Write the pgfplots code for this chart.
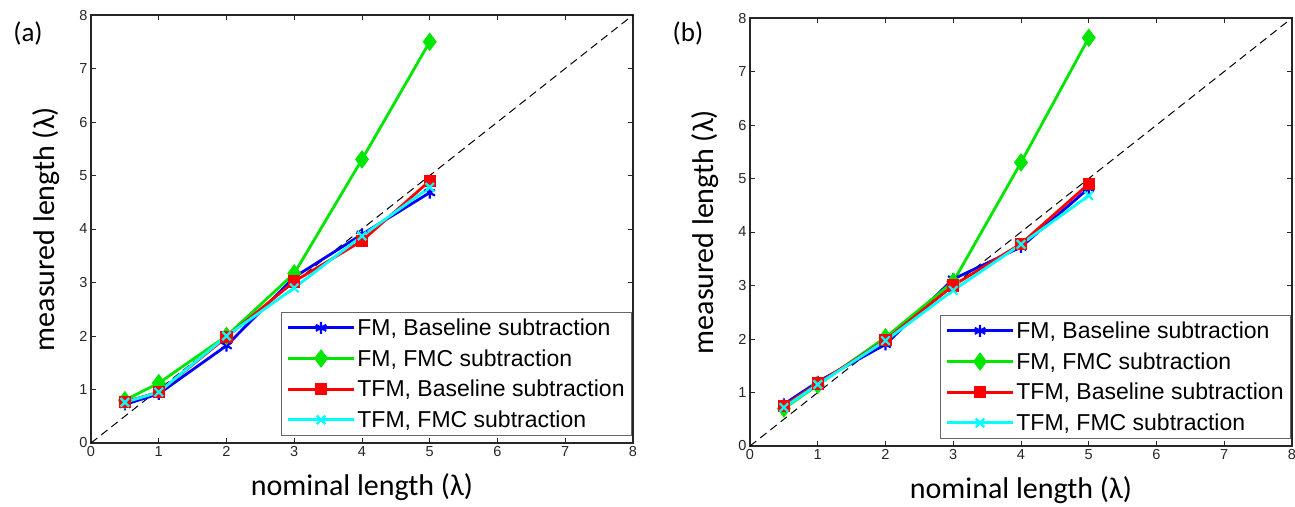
\documentclass[border=0pt]{standalone}
\usepackage{fontspec}
\setmainfont{Carlito}
\newfontfamily\legfont{Liberation Sans}
\usepackage{pgfplots}
\pgfplotsset{compat=1.18}
\definecolor{mgreen}{RGB}{0,230,0}
\definecolor{mblue}{RGB}{0,0,255}
\definecolor{mred}{RGB}{255,0,0}
\definecolor{mcyan}{RGB}{0,255,255}
\definecolor{axgray}{RGB}{38,38,38}

\pgfplotstableread{
x y
0.5 0.72
1 0.92
2 1.82
3 3.10
4 3.90
5 4.68
}\aFMB
\pgfplotstableread{
x y
0.5 0.80
1 1.12
2 2.00
3 3.17
4 5.30
5 7.50
}\aFMF
\pgfplotstableread{
x y
0.5 0.77
1 0.95
2 1.98
3 3.02
4 3.78
5 4.90
}\aTFMB
\pgfplotstableread{
x y
0.5 0.76
1 0.95
2 2.00
3 2.90
4 3.87
5 4.78
}\aTFMF

\pgfplotstableread{
x y
0.5 0.78
1 1.20
2 1.90
3 3.12
4 3.72
5 4.82
}\bFMB
\pgfplotstableread{
x y
0.5 0.70
1 1.14
2 2.03
3 3.07
4 5.30
5 7.63
}\bFMF
\pgfplotstableread{
x y
0.5 0.75
1 1.17
2 1.98
3 3.00
4 3.78
5 4.90
}\bTFMB
\pgfplotstableread{
x y
0.5 0.72
1 1.15
2 1.97
3 2.91
4 3.77
5 4.68
}\bTFMF

\pgfplotsset{
  myaxis/.style={
    scale only axis, width=542pt, height=428pt,
    xmin=0, xmax=8, ymin=0, ymax=8,
    xtick={0,1,...,8}, ytick={0,1,...,8},
    tick align=inside, major tick length=5pt,
    axis line style={line width=1.3pt, axgray},
    every tick/.style={axgray, line width=1pt},
    ticklabel style={font=\fontsize{14.5}{16}\legfont, text=axgray},
    /pgf/number format/assume math mode=true,
    xlabel={nominal length (λ)}, ylabel={measured length (λ)},
    label style={font=\fontsize{30}{34}\selectfont},
    xlabel style={at={(axis description cs:0.5,-0.104)}, anchor=center},
    ylabel style={at={(axis description cs:-0.082,0.5)}, anchor=center},
    legend cell align=left,
    legend style={at={(1,0.018)}, anchor=south east, xshift=-1pt,
      font=\fontsize{23}{26}\legfont, draw=black!60, line width=0.8pt,
      row sep=8.5pt, inner xsep=5pt, inner ysep=4pt},
    legend image code/.code={\draw[mark repeat=2,mark phase=2,#1] plot coordinates {(0pt,0pt) (33pt,0pt) (66pt,0pt)};},
  },
  sFMB/.style={mblue, line width=2.8pt, mark=asterisk, mark size=6pt, mark options={line width=2.2pt}},
  sFMF/.style={mgreen, line width=2.8pt, mark=diamond*, mark size=7pt, mark options={solid}},
  sTFMB/.style={mred, line width=2.8pt, mark=square*, mark size=4.8pt},
  sTFMF/.style={mcyan, line width=2.8pt, mark=x, mark size=6pt, mark options={line width=2.2pt}},
  diag/.style={black, line width=1pt, dash pattern=on 8pt off 5pt, forget plot},
}

\begin{document}
\begin{tikzpicture}
\path[use as bounding box] (0pt,0pt) rectangle (1295pt,-506pt);
\node[font=\fontsize{27}{30}\selectfont] at (28pt,-33pt) {(a)};
\node[font=\fontsize{27}{30}\selectfont] at (688pt,-33pt) {(b)};
\begin{axis}[myaxis, at={(91pt,-443pt)}, anchor=south west]
\addplot[diag] coordinates {(0,0) (8,8)};
\addplot[sFMB] table {\aFMB};
\addplot[sFMF] table {\aFMF};
\addplot[sTFMB] table {\aTFMB};
\addplot[sTFMF] table {\aTFMF};
\legend{{FM, Baseline subtraction}, {FM, FMC subtraction}, {TFM, Baseline subtraction}, {TFM, FMC subtraction}}
\end{axis}
\begin{axis}[myaxis, at={(750pt,-446pt)}, anchor=south west]
\addplot[diag] coordinates {(0,0) (8,8)};
\addplot[sFMB] table {\bFMB};
\addplot[sFMF] table {\bFMF};
\addplot[sTFMB] table {\bTFMB};
\addplot[sTFMF] table {\bTFMF};
\legend{{FM, Baseline subtraction}, {FM, FMC subtraction}, {TFM, Baseline subtraction}, {TFM, FMC subtraction}}
\end{axis}
\end{tikzpicture}
\end{document}
